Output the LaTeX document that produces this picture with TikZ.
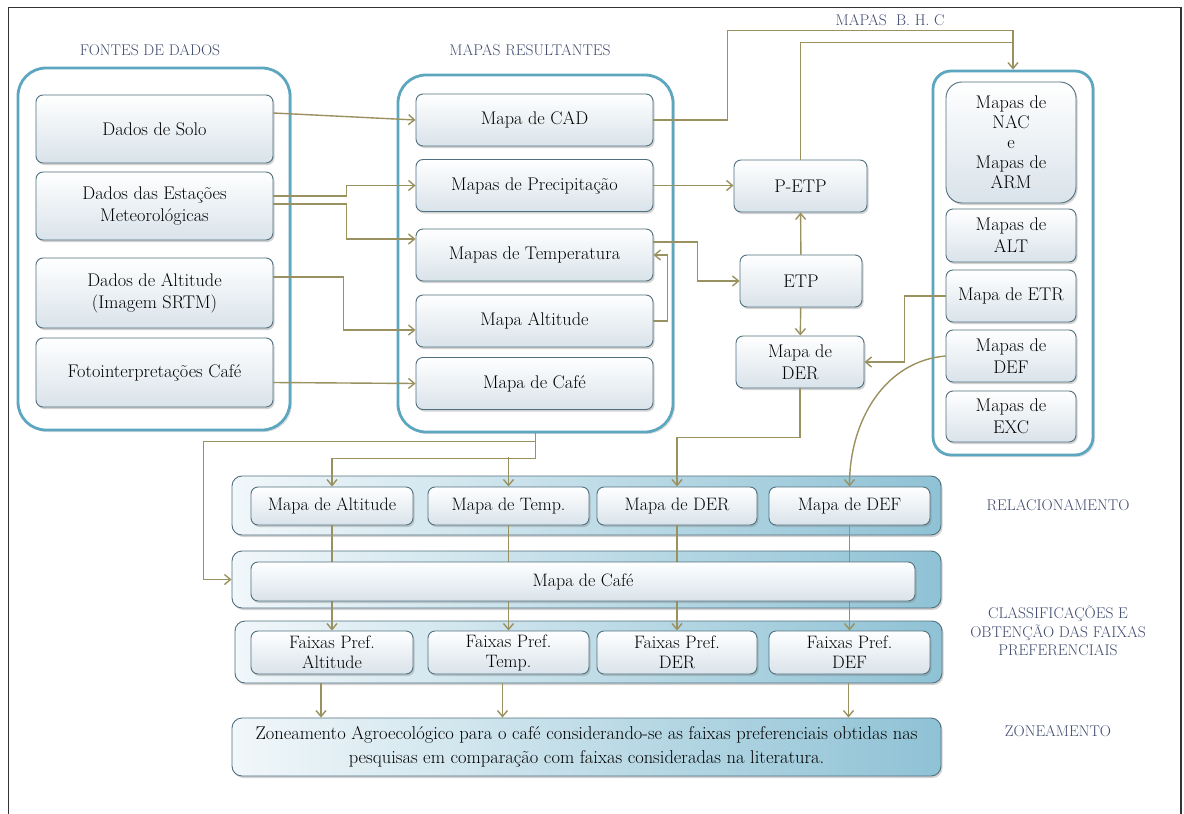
\documentclass[tikz,border=0pt]{standalone}
\usepackage{fontspec}
\usetikzlibrary{arrows.meta,shadows,calc}
\definecolor{boxline}{HTML}{51707F}
\definecolor{boxlo}{HTML}{D9E3EA}
\definecolor{grpline}{HTML}{5CA6BF}
\definecolor{bandlo}{HTML}{F1F7FA}
\definecolor{bandhi}{HTML}{8FC2D5}
\definecolor{linec}{HTML}{9A9160}
\definecolor{titc}{HTML}{3F4B6F}

\begin{document}
\begin{tikzpicture}[x=1pt, y=-1pt,
    box/.style={draw=boxline, line width=0.9pt, rounded corners=7pt, top color=white, bottom color=boxlo, drop shadow={shadow xshift=1.5pt, shadow yshift=-2pt, opacity=0.35}, align=center, font=\fontsize{18.3}{22}\selectfont, text=black, inner sep=1pt},
    sbox/.style={box, font=\fontsize{18}{20}\selectfont},
    group/.style={draw=grpline, line width=2.8pt, rounded corners=28pt, fill=white, drop shadow={shadow xshift=2pt, shadow yshift=-2pt, opacity=0.25}},
    band/.style={draw=boxline, line width=0.9pt, rounded corners=10pt, left color=bandlo, right color=bandhi, drop shadow={shadow xshift=1.5pt, shadow yshift=-2pt, opacity=0.35}},
    title/.style={font=\fontsize{15.5}{18.5}\selectfont, text=titc, align=center},
    line/.style={draw=linec, line width=1.4pt},
    arrow/.style={line, -{Straight Barb[length=6pt, width=10pt]}}
]
\useasboundingbox (0,0) rectangle (1184,814);
\draw[line width=1.5pt, black!80] (8.5,830) -- (8.5,7.5) -- (1181,7.5) -- (1181,830);

\node[group, minimum width=272pt, minimum height=362pt] (fontes) at (154,249) {};
\node[group, minimum width=275pt, minimum height=357pt] (mres) at (535.5,253.5) {};
\node[group, rounded corners=18pt, minimum width=160pt, minimum height=384pt] (bhc) at (1013,263) {};
\node[band, minimum width=709pt, minimum height=59pt] (rband) at (586.5,505.5) {};
\node[band, minimum width=709pt, minimum height=57pt] (cband) at (586.5,579.5) {};
\node[band, minimum width=707pt, minimum height=62pt] (fband) at (588.5,652) {};
\node[band, minimum width=709pt, minimum height=58pt, align=center, text=black, font=\fontsize{18.5}{24}\selectfont] (zone) at (586.5,747) {Zoneamento Agroecológico para o café considerando-se as faixas preferenciais obtidas nas\\pesquisas em comparação com faixas consideradas na literatura.};

\node[title] (tfontes) at (150,50) {FONTES DE DADOS};
\node[title] (tmres) at (530,50) {MAPAS RESULTANTES};
\node[title] (tbhc) at (890,20) {MAPAS\ \ B. H. C};
\node[title] (trel) at (1058,505) {RELACIONAMENTO};
\node[title] (tcla) at (1058,631) {CLASSIFICAÇÕES E\\OBTENÇÃO DAS FAIXAS\\PREFERENCIAIS};
\node[title] (tzon) at (1058,731) {ZONEAMENTO};

\node[box, minimum width=237pt, minimum height=68pt] (solo) at (154.5,129) {Dados de Solo};
\node[box, minimum width=237pt, minimum height=68pt] (estac) at (154.5,206) {Dados das Estações\\Meteorológicas};
\node[box, minimum width=237pt, minimum height=70pt] (alt) at (154.5,293) {Dados de Altitude\\(Imagem SRTM)};
\node[box, minimum width=237pt, minimum height=69pt] (foto) at (154.5,372.5) {Fotointerpretações Café};

\node[box, minimum width=237pt, minimum height=52pt] (cad) at (534.5,120) {Mapa de CAD};
\node[box, minimum width=237pt, minimum height=52pt] (prec) at (534.5,185.5) {Mapas de Precipitação};
\node[box, minimum width=237pt, minimum height=52pt] (temp) at (534.5,255) {Mapas de Temperatura};
\node[box, minimum width=237pt, minimum height=52pt] (malt) at (534.5,321) {Mapa Altitude};
\node[box, minimum width=237pt, minimum height=52pt] (mcafe) at (534.5,383.5) {Mapa de Café};

\node[box, minimum width=133pt, minimum height=52pt] (petp) at (800.5,186) {P-ETP};
\node[box, minimum width=122pt, minimum height=52pt] (etp) at (801,281) {ETP};
\node[box, minimum width=128pt, minimum height=52pt] (der) at (800,362) {Mapa de\\DER};

\node[box, rounded corners=16pt, minimum width=130pt, minimum height=121pt, font=\fontsize{18.3}{20}\selectfont] (nac) at (1011,142.5) {Mapas de\\NAC\\e\\Mapas de\\ARM};
\node[box, minimum width=130pt, minimum height=53pt] (altb) at (1011,235.5) {Mapas de\\ALT};
\node[box, minimum width=130pt, minimum height=52pt] (etr) at (1011,296) {Mapa de ETR};
\node[box, minimum width=130pt, minimum height=52pt] (def) at (1011,356) {Mapas de\\DEF};
\node[box, minimum width=130pt, minimum height=51pt] (exc) at (1011,416.5) {Mapas de\\EXC};

\node[sbox, minimum width=162pt, minimum height=38pt] (ralt) at (332,506) {Mapa de Altitude};
\node[sbox, minimum width=161pt, minimum height=38pt] (rtemp) at (508.5,506) {Mapa de Temp.};
\node[sbox, minimum width=160pt, minimum height=38pt] (rder) at (677,506) {Mapa de DER};
\node[sbox, minimum width=161pt, minimum height=38pt] (rdef) at (849.5,506) {Mapa de DEF};

\node[sbox, minimum width=162pt, minimum height=43pt] (falt) at (332,652.5) {Faixas Pref.\\Altitude};
\node[sbox, minimum width=161pt, minimum height=43pt] (ftemp) at (508.5,652.5) {Faixas Pref.\\Temp.};
\node[sbox, minimum width=160pt, minimum height=43pt] (fder) at (677,652.5) {Faixas Pref.\\DER};
\node[sbox, minimum width=161pt, minimum height=43pt] (fdef) at (849.5,652.5) {Faixas Pref.\\DEF};

\draw[arrow] ([yshift=16pt]solo.east) -- (cad.west);
\draw[arrow] ([yshift=10pt]estac.east) -- ++(73,0) |- (prec.west);
\draw[arrow] ([yshift=2pt]estac.east) -- ++(73,0) |- ([yshift=16pt]temp.west);
\draw[arrow] ([yshift=16pt]alt.east) -- ++(70,0) |- ([yshift=-9pt]malt.west);
\draw[arrow] ([yshift=-10pt]foto.east) -- (mcafe.west);

\draw[arrow] (cad.east) -- ++(74,0) |- ([yshift=39pt]bhc.north) -- (bhc.north);
\draw[line] (petp.north) |- ([yshift=27pt]bhc.north);
\draw[arrow] (prec.east) -- (prec.east -| petp.west);
\draw[arrow] ([yshift=13pt]temp.east) -- ++(44,0) |- (etp.west);
\draw[arrow] (malt.east) -- ++(14,0) |- (temp.east);
\draw[arrow] (etp) -- (petp);
\draw[arrow] (etp) -- (der);
\draw[arrow] (etr.west) -- ++(-41,0) |- (der.east);

\draw[arrow] (mres.south) -- ++(0,25) -| (ralt.north);
\draw[arrow] ([yshift=30pt]rtemp.north) -- (rtemp.north);
\draw[arrow] ([yshift=-8pt]mres.south) -| ([xshift=-28pt]cband.west) -- (cband.west);
\draw[arrow] (der.south) -- ++(0,49) -| (rder.north);
\draw[arrow] (def.west) .. controls +(-60,5) and +(0,-67) .. (rdef.north);

\foreach \a/\b in {ralt/falt, rtemp/ftemp, rder/fder, rdef/fdef}
  \draw[arrow] (\a) -- (\b);
\node[sbox, minimum width=664pt, minimum height=39pt] (bcafe) at (583,581.5) {Mapa de Café};

\foreach \n/\s in {falt/-11, ftemp/-6, fdef/-1}
  \draw[arrow] ($(\n.south |- fband.south)+(\s,0)$) -- ($(\n.south |- zone.north)+(\s,0)$);
\end{tikzpicture}
\end{document}
